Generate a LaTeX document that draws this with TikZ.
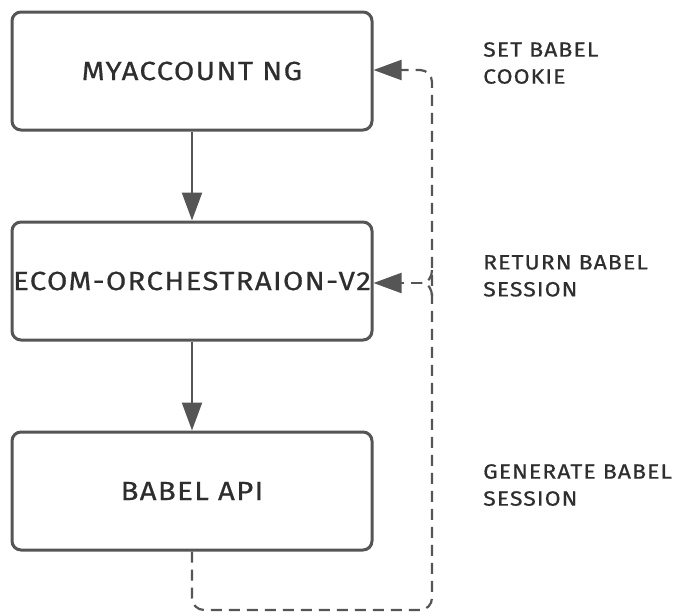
\documentclass[tikz,border=0pt]{standalone}
\usepackage{fontspec}
\setmainfont{Fira Sans}[FakeStretch=1.12,LetterSpace=5,FakeBold=0.6]
\usetikzlibrary{arrows.meta}
\definecolor{ink}{HTML}{555555}
\definecolor{txt}{HTML}{2E2E2E}
\begin{document}
\begin{tikzpicture}[x=1pt,y=-1pt,
  service/.style={draw=ink,line width=3pt,rounded corners=9pt,minimum width=360pt,
    minimum height=118pt,inner sep=0pt,text=txt,font=\fontsize{26.3}{30}\selectfont},
  flow/.style={draw=ink,line width=2.2pt,-{Triangle[length=28pt,width=20pt]}},
  back/.style={draw=ink,line width=2.2pt,dash pattern=on 11pt off 7pt,rounded corners=12pt},
  note/.style={anchor=north west,align=left,text=txt,inner sep=0pt,
    font=\fontsize{20.6}{27}\selectfont}]
  \useasboundingbox (0,0) rectangle (675,616);

  % services
  \node[service] (ng)   at (192,71)  {MYACCOUNT NG};
  \node[service] (orch) at (192,281) {ECOM-ORCHESTRAION-V2};
  \node[service] (api)  at (192,491) {BABEL API};

  % request flow
  \draw[flow] (ng.south) -- (orch.north);
  \draw[flow] (orch.south) -- (api.north);

  % return path
  \coordinate (turn) at (192,610);
  \coordinate (up) at (432,610);
  \coordinate (top) at (432,70);
  \coordinate (fork) at (422,283);
  \draw[back,-{Triangle[length=28pt,width=20pt]}] (api.south) -- (turn) -- (up) -- (top) -- (ng.east |- top);
  \draw[back] (432,270) to[out=-90,in=0] (fork);
  \draw[back] (432,296) to[out=90,in=0] (fork);
  \draw[back,-{Triangle[length=28pt,width=20pt]}] (fork) -- (orch.east |- fork);

  % step notes
  \node[note] (n1) at (483,42)  {SET BABEL\\COOKIE};
  \node[note] (n2) at (483,255) {RETURN BABEL\\SESSION};
  \node[note] (n3) at (483,464) {GENERATE BABEL\\SESSION};
\end{tikzpicture}
\end{document}
